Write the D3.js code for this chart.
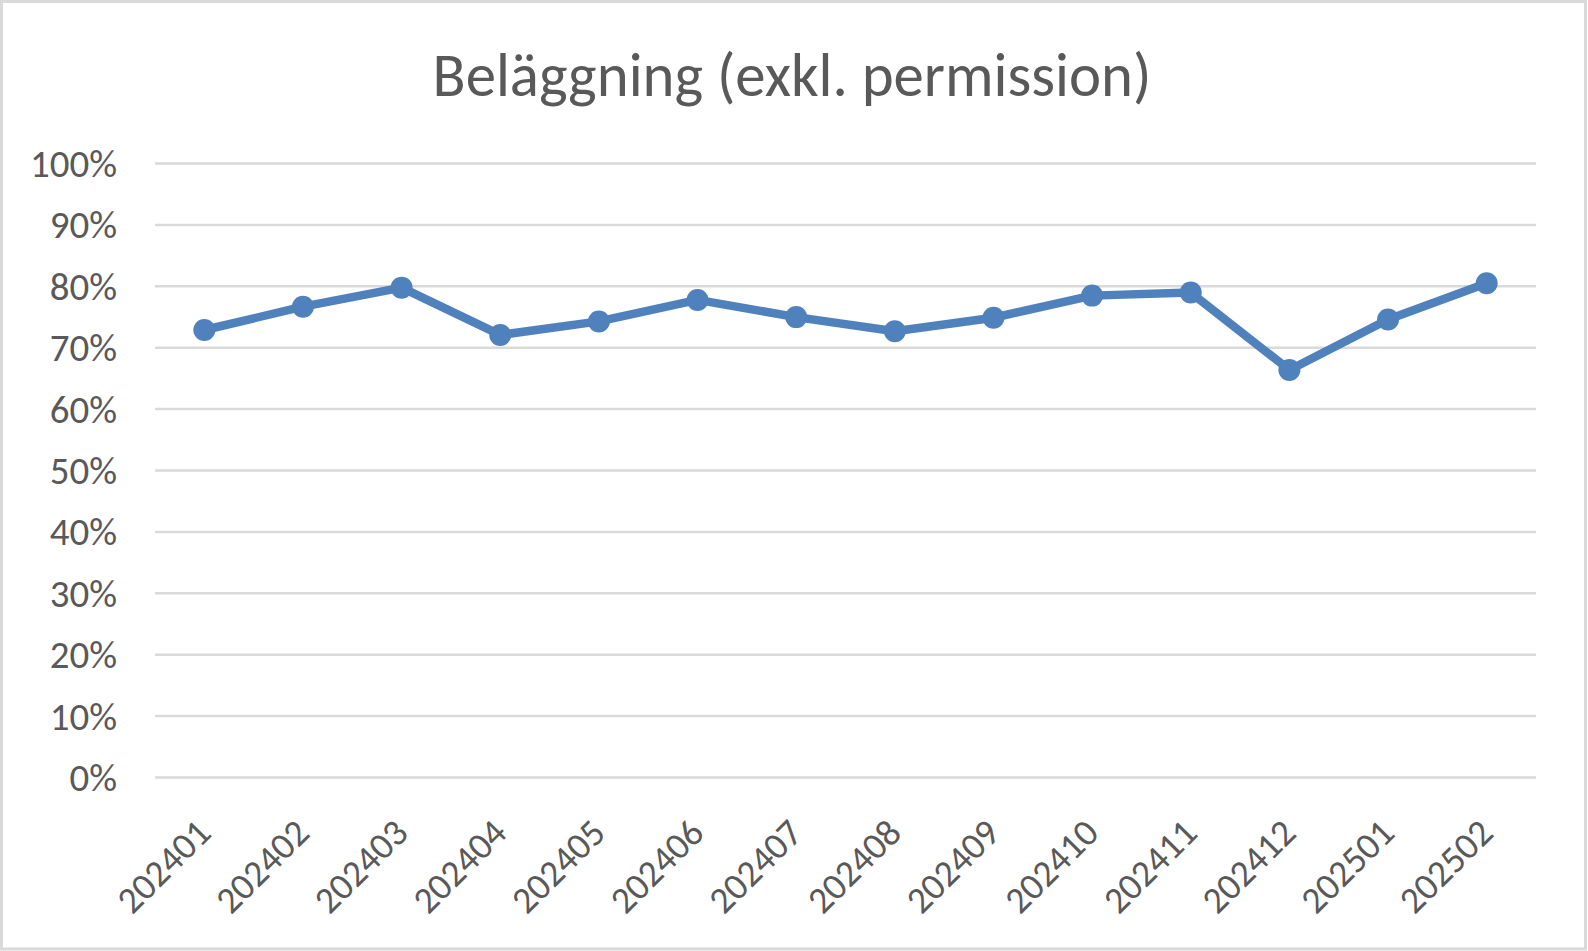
<!DOCTYPE html>
<html><head><meta charset="utf-8">
<script src="https://cdn.jsdelivr.net/npm/d3@7/dist/d3.min.js"></script>
<style>
html,body{margin:0;padding:0;background:#fff;}
svg{display:block;}
</style></head>
<body>
<svg id="chart" width="1588" height="951"></svg>
<script>
const title = "Beläggning (exkl. permission)";
const categories = ["202401","202402","202403","202404","202405","202406","202407","202408","202409","202410","202411","202412","202501","202502"];
const values = [0.728,0.766,0.797,0.720,0.742,0.777,0.749,0.726,0.748,0.784,0.789,0.663,0.745,0.804];
const yTicks = [0,0.1,0.2,0.3,0.4,0.5,0.6,0.7,0.8,0.9,1.0];

const W = 1588, H = 951;
const FONT = "Carlito, Calibri, Lato, 'Open Sans', sans-serif";
const textColor = "#595959";
const lineColor = "#4F81BD";
const gridColor = "#D9D9D9";

const svg = d3.select("#chart");
svg.append("rect").attr("x",1.5).attr("y",1.5).attr("width",W-4).attr("height",H-3.5)
  .attr("fill","#fff").attr("stroke","#D9D9D9").attr("stroke-width",3);

// font-size fitting helper so that text widths match Calibri-proportioned widths
function fitSize(sample, base, targetWidth){
  const t = svg.append("text").attr("font-family",FONT).attr("font-size",base).text(sample);
  const w = t.node().getComputedTextLength();
  t.remove();
  return base * targetWidth / w;
}
const tickSize = fitSize("100%", 38, 87);
const xTickSize = fitSize("202401", 38, 114);
const titleSize = fitSize(title, 57, 719);

const x = d3.scalePoint().domain(categories).range([155, 1536]).padding(0.5);
const y = d3.scaleLinear().domain([0,1]).range([777, 163]);

// gridlines + y labels
const yAxis = d3.axisLeft(y).tickValues(yTicks).tickFormat(d3.format(".0%")).tickSize(-(1536-155)).tickPadding(38);
const gy = svg.append("g").attr("transform","translate(155,0)").call(yAxis);
gy.select(".domain").remove();
gy.selectAll(".tick line").attr("stroke",gridColor).attr("stroke-width",2.5);
gy.selectAll(".tick text").attr("font-family",FONT).attr("font-size",tickSize)
  .attr("fill",textColor).attr("dy",null).attr("dominant-baseline","central");

// x labels
const xAxis = d3.axisBottom(x).tickSize(0).tickPadding(0);
const gx = svg.append("g").attr("transform","translate(0,777)").call(xAxis);
gx.select(".domain").remove();
gx.selectAll(".tick text")
  .attr("font-family",FONT).attr("font-size",xTickSize).attr("fill",textColor)
  .attr("text-anchor","end").attr("dy",null).attr("y",null)
  .attr("transform","translate(8,58) rotate(-45)");

// line
const line = d3.line().x((d,i)=>x(categories[i])).y(d=>y(d));
svg.append("path").datum(values).attr("d",line).attr("fill","none")
  .attr("stroke",lineColor).attr("stroke-width",8.5).attr("stroke-linejoin","round").attr("stroke-linecap","round");
svg.selectAll("circle.pt").data(values).enter().append("circle").attr("class","pt")
  .attr("cx",(d,i)=>x(categories[i])).attr("cy",d=>y(d)).attr("r",11).attr("fill",lineColor);

// title
svg.append("text").attr("x",792).attr("y",96).attr("text-anchor","middle")
  .attr("font-family",FONT).attr("font-size",titleSize).attr("fill",textColor).text(title);
</script>
</body></html>
